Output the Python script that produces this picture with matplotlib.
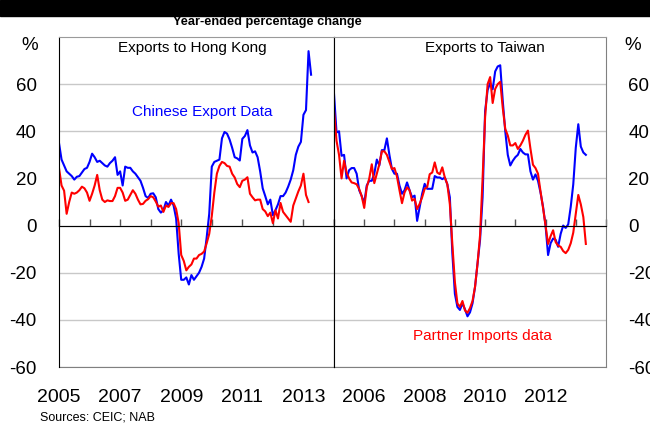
import numpy as np
import matplotlib.pyplot as plt
from matplotlib.patches import Rectangle

plt.rcParams['font.family'] = ['Liberation Sans', 'DejaVu Sans']
plt.rcParams['axes.unicode_minus'] = False

# --- Data: year-ended % change, monthly from Jan 2005 ---
start_year = 2005

hk_export = [35, 28, 25.5, 23, 22, 21, 19.5, 20.7, 21, 22.5,
             24, 24.5, 27, 30.5, 29, 27, 27.5, 26.5, 25.5, 25,
             26.5, 27.5, 29, 21.5, 23, 17, 25, 24.5, 24.5, 23,
             22, 20.5, 19, 16, 12.5, 11.7, 13.5, 13.7, 12, 7,
             5.5, 6.5, 10, 8.5, 11, 8.5, 3, -12, -23, -23,
             -22, -25, -21, -23, -21.5, -20, -17.5, -14, -5, 5,
             25, 27, 27.5, 28, 37, 39.7, 39, 36.5, 33, 29,
             28.5, 27.6, 36.8, 38, 40.5, 34, 31, 31.5, 29, 23,
             15.8, 12.5, 9, 11, 4.4, 6.5, 9, 12.5, 12.5, 14,
             16.5, 19.5, 23.5, 30, 33.5, 35.5, 47, 49, 74, 64]

hk_import = [24.4, 17, 14.8, 5, 10, 14, 13.5, 14, 15, 16.5,
             15.8, 14, 10.5, 13.5, 17, 21.5, 15, 11, 10, 10.7,
             10.4, 10.4, 12.5, 16, 16, 14, 10.5, 11, 13, 15,
             13.5, 11, 9, 9.2, 10.5, 11.2, 12.5, 12, 10.2, 8,
             8.5, 5.8, 8.5, 7.9, 9.5, 9.5, 7, 1, -12.5, -15,
             -19, -17.5, -16.5, -14, -14, -12.5, -12, -11, -7.5, -3.5,
             4, 14, 22, 25.3, 27, 26.5, 25.3, 25, 22, 20.4,
             17.6, 16.3, 19, 19.5, 20.5, 13.5, 12, 10.7, 11, 11,
             7, 6, 4, 5.5, 1, 6.5, 3, 9.6, 5.8, 4.4,
             3, 1.6, 8.5, 11.5, 14.5, 17, 22, 13, 10]

tw_export = [56, 39.5, 40, 29.6, 30, 20, 23.5, 24.4, 24.4, 22,
             15, 12.5, 9.5, 17, 19, 19, 22, 28, 25.5, 32,
             32, 37, 30, 24, 22, 22, 17, 13.5, 15, 18.3,
             15, 12, 12.7, 2, 7.7, 13.5, 17.7, 15.6, 15.6, 15.6,
             21, 20.4, 20.4, 19.7, 20.4, 17.5, 12, -12, -29, -34.5,
             -35.8, -33, -35.5, -38.5, -36.8, -33, -26, -16, -6, 12,
             48.6, 57.5, 60.5, 57.8, 65.4, 67.5, 68, 53, 40, 30,
             25.5, 27.5, 29, 30, 32.5, 31, 30.2, 30.2, 23, 19.5,
             21.7, 19, 14, 8, 0, -12.5, -7.5, -5.5, -6, -9,
             -3.5, 0, -1, 0.5, 8, 17.5, 33, 43, 33.5, 31, 30]

tw_import = [49, 36, 30, 20, 27.5, 22.5, 20, 18.3, 18, 17.5,
             15.5, 12.5, 7.5, 16.2, 20, 26, 18, 22, 26, 31.5,
             31.5, 30, 27, 24, 24.4, 20.8, 15, 9.5, 14, 16.2,
             15, 10.6, 11.3, 7, 9.2, 12, 15.6, 16.3, 21.8, 22.5,
             26.8, 22.5, 21.8, 24.7, 20.4, 17.5, 9, -8, -24, -33,
             -34.5, -32, -36, -37, -35, -32, -26, -16, -4, 20,
             46, 60, 63, 52, 58, 60, 61, 50, 41, 38.2,
             34, 34, 35, 32.5, 34, 36, 38.5, 40.3, 32.6, 25.8,
             24.4, 22, 14.5, 7.5, 0, -7.8, -4.5, -2, -7, -8.5,
             -9, -10.8, -11.7, -10.3, -7.5, -3, 5, 13, 9, 3.6, -7.8]

tick_years = list(range(2005, 2015))
hk_label_years = [2005, 2007, 2009, 2011, 2013]
tw_label_years = [2006, 2008, 2010, 2012]
y_ticks = [-60, -40, -20, 0, 20, 40, 60]


def months(values):
    return start_year + np.arange(len(values)) / 12.0


def style_panel(ax, label_years):
    ax.set_xlim(2005, 2014)
    ax.set_ylim(-60, 80)
    ax.set_yticks(y_ticks)
    ax.yaxis.grid(True, color='#c8c8c8', lw=1)
    ax.set_axisbelow(True)
    # zero line with year ticks pointing up
    ax.spines['bottom'].set_position(('data', 0))
    ax.spines['bottom'].set_color('black')
    ax.set_xticks(tick_years)
    ax.tick_params(axis='x', direction='in', length=5, width=1,
                   color='#555555', labelbottom=False)
    ax.spines['top'].set_color('#9a9a9a')
    # year labels under the frame
    sec = ax.secondary_xaxis('bottom')
    sec.set_xticks(label_years)
    sec.tick_params(length=0, pad=16, labelsize=14)
    sec.spines['bottom'].set_color('#808080')


fig = plt.figure(figsize=(6.5, 4.24), dpi=100)
ax1 = fig.add_axes([59 / 650, 1 - 367 / 424, 275 / 650, 330 / 424])
ax2 = fig.add_axes([334 / 650, 1 - 367 / 424, 272 / 650, 330 / 424])

style_panel(ax1, hk_label_years)
style_panel(ax2, tw_label_years)

ax1.spines['left'].set_color('black')
ax1.spines['right'].set_color('black')
ax2.spines['left'].set_color('black')
ax2.spines['right'].set_color('#808080')

ax1.tick_params(axis='y', length=0, pad=16, labelsize=13.5)
ax2.yaxis.tick_right()
ax2.tick_params(axis='y', length=0, pad=16, labelsize=13.5,
                labelleft=False, labelright=True)

ax1.plot(months(hk_export), hk_export, color='#0000ff', lw=1.5)
ax1.plot(months(hk_import), hk_import, color='#ff0000', lw=1.5)
ax2.plot(months(tw_export), tw_export, color='#0000ff', lw=1.5)
ax2.plot(months(tw_import), tw_import, color='#ff0000', lw=1.5)

ax1.text(0.483, 0.967, 'Exports to Hong Kong', transform=ax1.transAxes,
         ha='center', va='center', fontsize=11)
ax1.text(0.52, 0.773, 'Chinese Export Data', transform=ax1.transAxes,
         ha='center', va='center', fontsize=11, color='#0000ff')
ax2.text(0.555, 0.967, 'Exports to Taiwan', transform=ax2.transAxes,
         ha='center', va='center', fontsize=11)
ax2.text(0.544, 0.094, 'Partner Imports data', transform=ax2.transAxes,
         ha='center', va='center', fontsize=11, color='#ff0000')

fig.text(30 / 650, 1 - 45 / 424, '%', ha='center', va='center', fontsize=13.5)
fig.text(633 / 650, 1 - 45 / 424, '%', ha='center', va='center', fontsize=13.5)

fig.add_artist(Rectangle((0, 1 - 16 / 424), 1, 16 / 424,
                         transform=fig.transFigure, color='black'))
fig.text(267 / 650, 1 - 22.5 / 424, 'Year-ended percentage change',
         ha='center', va='center', fontsize=9.2, fontweight='bold')
fig.text(40 / 650, 1 - 418 / 424, 'Sources: CEIC; NAB',
         ha='left', va='center', fontsize=9)

fig.savefig('out.png', dpi=100)
